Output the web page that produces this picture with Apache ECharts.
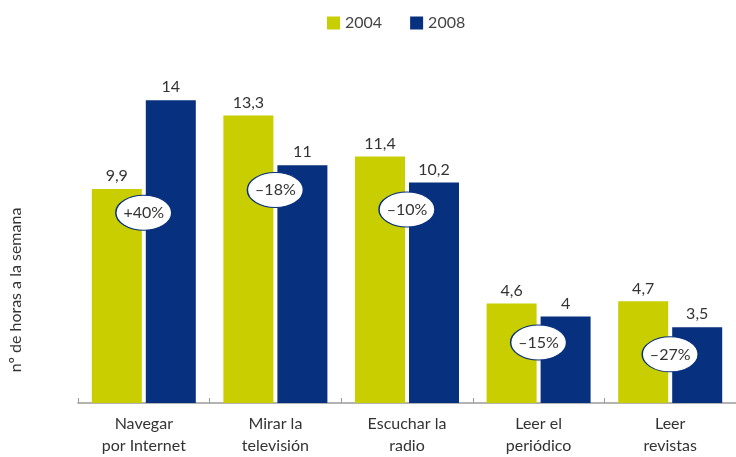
<!DOCTYPE html>
<html>
<head>
<meta charset="utf-8">
<script src="https://cdn.jsdelivr.net/npm/echarts@6/dist/echarts.min.js"></script>
<style>html,body{margin:0;padding:0;background:#fff}#c{width:736px;height:457px}</style>
</head>
<body>
<div id="c"></div>
<script>
const categories = ['Navegar\npor Internet', 'Mirar la\ntelevisión', 'Escuchar la\nradio', 'Leer el\nperiódico', 'Leer\nrevistas'];
const values2004 = [9.9, 13.3, 11.4, 4.6, 4.7];
const values2008 = [14, 11, 10.2, 4, 3.5];
const changeLabels = ['+40%', '–18%', '–10%', '–15%', '–27%'];
const changeY = [8.8, 9.85, 8.95, 2.8, 2.25];
const yAxisName = 'nº de horas a la semana';

const fmt = v => String(v).replace('.', ',');
const chart = echarts.init(document.getElementById('c'));
const FONT = 'Lato';
chart.setOption({
  animation: false,
  textStyle: { fontFamily: FONT },
  legend: {
    top: 10, left: 322, itemWidth: 13, itemHeight: 13, itemGap: 28,
    icon: 'rect',
    textStyle: { fontSize: 16, color: '#444', fontFamily: FONT },
    data: ['2004', '2008']
  },
  grid: { left: 72, right: -2, top: 57, bottom: 45 },
  xAxis: {
    type: 'category', data: categories,
    axisLine: { lineStyle: { color: '#9a9a9a', width: 1.5 } },
    axisTick: { show: true, inside: true, length: 5, lineStyle: { color: '#9a9a9a' } },
    axisLabel: { fontSize: 16, color: '#333', lineHeight: 22, margin: 10, fontFamily: FONT }
  },
  yAxis: {
    type: 'value', min: 0, max: 16,
    name: yAxisName, nameLocation: 'middle', nameGap: 54, nameRotate: 90,
    nameTextStyle: { fontSize: 16, color: '#333', fontFamily: FONT, padding: [0, 0, 0, -120] },
    axisLine: { show: false }, axisTick: { show: false }, axisLabel: { show: false },
    splitLine: { show: false }
  },
  series: [
    {
      name: '2004', type: 'bar', data: values2004, barWidth: 50, barGap: '8%',
      itemStyle: { color: '#c8ce00' },
      label: { show: true, position: 'top', distance: 5, fontSize: 16, color: '#333', formatter: p => fmt(p.value) }
    },
    {
      name: '2008', type: 'bar', data: values2008, barWidth: 50,
      itemStyle: { color: '#07307f' },
      label: { show: true, position: 'top', distance: 5, fontSize: 16, color: '#333', formatter: p => fmt(p.value) }
    },
    {
      name: 'change', type: 'scatter', data: changeY,
      symbol: 'circle', symbolSize: [56, 35], z: 5,
      itemStyle: { color: '#fff', borderColor: '#07307f', borderWidth: 1.2, opacity: 1 },
      label: { show: true, position: 'inside', fontSize: 16, color: '#333', formatter: p => changeLabels[p.dataIndex] }
    }
  ]
});
</script>
</body>
</html>
